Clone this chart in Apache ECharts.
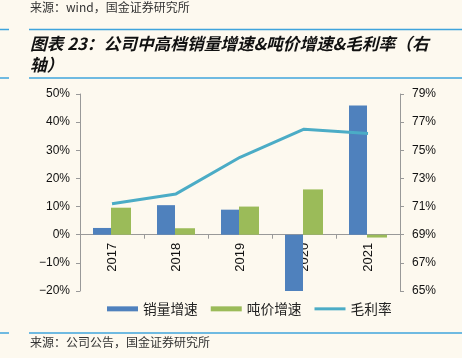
<!DOCTYPE html>
<html><head><meta charset="utf-8">
<script src="https://cdn.jsdelivr.net/npm/echarts@6/dist/echarts.min.js"></script>
<style>html,body{margin:0;padding:0;background:#fdf9ef;}#c{width:462px;height:358px;}</style>
</head><body><div id="c"></div>
<script>
const categories = ['2017','2018','2019','2020','2021'];
const salesGrowth = [2.4, 10.5, 8.9, -20, 45.9];
const priceGrowth = [9.6, 2.3, 10.0, 16.1, -1.0];
const grossMargin = [71.2, 71.9, 74.5, 76.5, 76.2];
const leftTicks = {min: -20, max: 50, interval: 10};
const rightTicks = {min: 65, max: 79, interval: 2};

const chart = echarts.init(document.getElementById('c'));
const pct = v => (v < 0 ? '\u2212' + Math.abs(v) : v) + '%';
const font = '"Liberation Sans", Arial, sans-serif';
const cjk = '"Noto Sans CJK SC", sans-serif';
const blueLine = '#3fa4dc';
const gridTop = 94, gridBottom = 67, H = 358;
const plotH = H - gridTop - gridBottom;
const zeroOffset = -plotH * (0 - leftTicks.min) / (leftTicks.max - leftTicks.min);
chart.setOption({
  backgroundColor: '#fdf9ef',
  animation: false,
  graphic: [
    {type:'text', left: 30, top: 1, style:{text:'来源：wind，国金证券研究所', font:'12px '+cjk, fill:'#333'}},
    {type:'line', shape:{x1:0,y1:29.5,x2:9,y2:29.5}, style:{stroke:blueLine, lineWidth:1.5}},
    {type:'line', shape:{x1:29,y1:29.5,x2:462,y2:29.5}, style:{stroke:blueLine, lineWidth:1.5}},
    {type:'text', left: 30, top: 35, style:{text:'图表 23：公司中高档销量增速&吨价增速&毛利率（右', font:'italic bold 16.7px '+cjk, fill:'#111'}},
    {type:'text', left: 30, top: 56, style:{text:'轴）', font:'italic bold 16.7px '+cjk, fill:'#111'}},
    {type:'line', shape:{x1:0,y1:78,x2:9,y2:78}, style:{stroke:blueLine, lineWidth:1.5}},
    {type:'line', shape:{x1:29,y1:78,x2:462,y2:78}, style:{stroke:blueLine, lineWidth:1.5}},
    {type:'line', shape:{x1:0,y1:333,x2:9,y2:333}, style:{stroke:blueLine, lineWidth:1.5}},
    {type:'line', shape:{x1:29,y1:333,x2:462,y2:333}, style:{stroke:blueLine, lineWidth:1.5}},
    {type:'text', left: 30, top: 336, style:{text:'来源：公司公告，国金证券研究所', font:'12px '+cjk, fill:'#333'}}
  ],
  legend: {
    left: 102, top: 297, itemWidth: 31, itemHeight: 5, itemGap: 13,
    textStyle: {fontFamily: cjk, fontSize: 13.7, color: '#222'},
    data: [
      {name:'销量增速', icon:'rect'},
      {name:'吨价增速', icon:'rect'},
      {name:'毛利率', icon:'path://M0,0 H31 V3 H0 Z'}
    ]
  },
  grid: {left: 80, right: 62, top: gridTop, bottom: gridBottom},
  xAxis: {
    type: 'category', data: categories,
    offset: zeroOffset,
    axisLine: {onZero: false, lineStyle: {color: '#999'}},
    axisTick: {show: true, length: 4, lineStyle: {color: '#999'}},
    axisLabel: {rotate: 90, fontFamily: font, fontSize: 13, color: '#111', margin: 8}
  },
  yAxis: [
    {type: 'value', min: leftTicks.min, max: leftTicks.max, interval: leftTicks.interval,
     axisLine: {show: true, lineStyle: {color: '#999'}},
     axisTick: {show: true, length: 4, lineStyle: {color: '#999'}},
     splitLine: {show: false},
     axisLabel: {formatter: pct, fontFamily: font, fontSize: 12, color: '#111', margin: 10}},
    {type: 'value', min: rightTicks.min, max: rightTicks.max, interval: rightTicks.interval,
     position: 'right',
     axisLine: {show: true, lineStyle: {color: '#999'}},
     axisTick: {show: true, length: 4, lineStyle: {color: '#999'}},
     splitLine: {show: false},
     axisLabel: {formatter: v => v + '%', fontFamily: font, fontSize: 12, color: '#111', margin: 12}}
  ],
  series: [
    {name:'销量增速', type:'bar', data: salesGrowth, barWidth: 18, barGap: '0%',
     itemStyle:{color:'#4f81bd'}},
    {name:'吨价增速', type:'bar', data: priceGrowth, barWidth: 20, barGap: '0%',
     itemStyle:{color:'#9bbb59'}},
    {name:'毛利率', type:'line', yAxisIndex: 1, data: grossMargin, symbol:'none',
     lineStyle:{color:'#4bacc6', width: 3}, itemStyle:{color:'#4bacc6'}}
  ]
});
</script></body></html>
